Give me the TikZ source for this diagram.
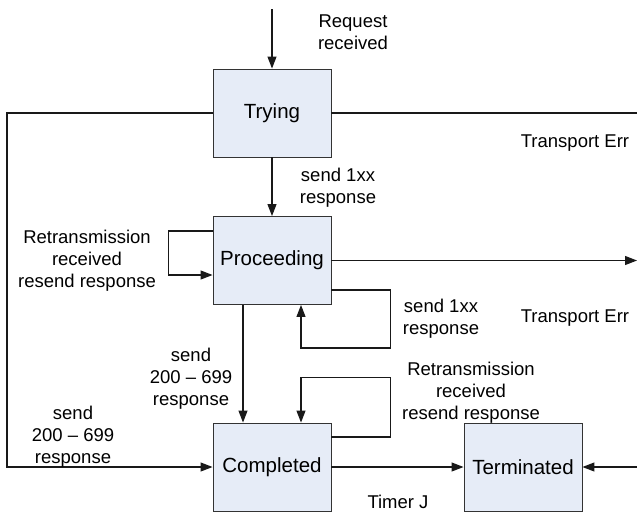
\documentclass[tikz,border=0pt]{standalone}
\usepackage{fontspec}
\setmainfont{Liberation Sans}
\usetikzlibrary{arrows.meta,calc}
\definecolor{boxfill}{RGB}{230,236,247}
\begin{document}
\begin{tikzpicture}[x=1pt,y=-1pt,
  state/.style={draw=black!80,line width=0.9pt,fill=boxfill,minimum width=118pt,minimum height=88pt,inner sep=0pt,font=\fontsize{20.5}{24}\selectfont},
  lbl/.style={align=center,inner sep=0pt,font=\fontsize{18.5}{22}\selectfont},
  conn/.style={line width=1.1pt,draw=black!90},
  arr/.style={conn,-{Triangle[length=12pt,width=9pt]}}]
\useasboundingbox (0,0) rectangle (637,514);
\node[state] (trying) at (272,113) {Trying};
\node[state] (proc) at (272,260.5) {Proceeding};
\node[state] (compl) at (272,467) {Completed};
\node[state] (term) at (523,467) {Terminated};
\coordinate (in) at (272,9);
\coordinate (lc) at (7,113);
\coordinate (tr) at (637,113);
\coordinate (pr) at (637,260.5);
\coordinate (tre) at (637,467);
\draw[arr] (in) -- (trying.north);
\draw[arr] (trying.west) -- (lc) |- (compl.west);
\draw[conn] (trying.east) -- (tr);
\draw[arr] (trying.south) -- (proc.north);
\draw[arr] (proc.east) -- (pr);
\draw[arr] ($(proc.west)+(0,-29.5)$) -- ++(-44,0) -- ++(0,44) -- ($(proc.west)+(0,14.5)$);
\draw[arr] ($(proc.east)+(0,29.5)$) -- ++(59,0) |- ($(proc.south)+(29,43)$) -- ($(proc.south)+(29,0)$);
\draw[arr] ($(proc.south)+(-29,0)$) -- ($(compl.north)+(-29,0)$);
\draw[arr] ($(compl.east)+(0,-30)$) -- ++(59,0) |- ($(compl.north)+(29,-45)$) -- ($(compl.north)+(29,0)$);
\draw[arr] (compl) -- (term);
\draw[arr] (tre) -- (term.east);
\node[lbl] (l1) at (353,32) {Request\\received};
\node[lbl] (l2) at (575,143) {Transport Err};
\node[lbl] (l3) at (338,188) {send 1xx\\response};
\node[lbl] (l4) at (87,261) {Retransmission\\received\\resend response};
\node[lbl] (l5) at (441,319) {send 1xx\\response};
\node[lbl] (l6) at (575,318) {Transport Err};
\node[lbl] (l7) at (191,379) {send\\200 – 699\\response};
\node[lbl] (l8) at (471,393) {Retransmission\\received\\resend response};
\node[lbl] (l9) at (73,437) {send\\200 – 699\\response};
\node[lbl] (l10) at (398,502) {Timer J};
\end{tikzpicture}
\end{document}
